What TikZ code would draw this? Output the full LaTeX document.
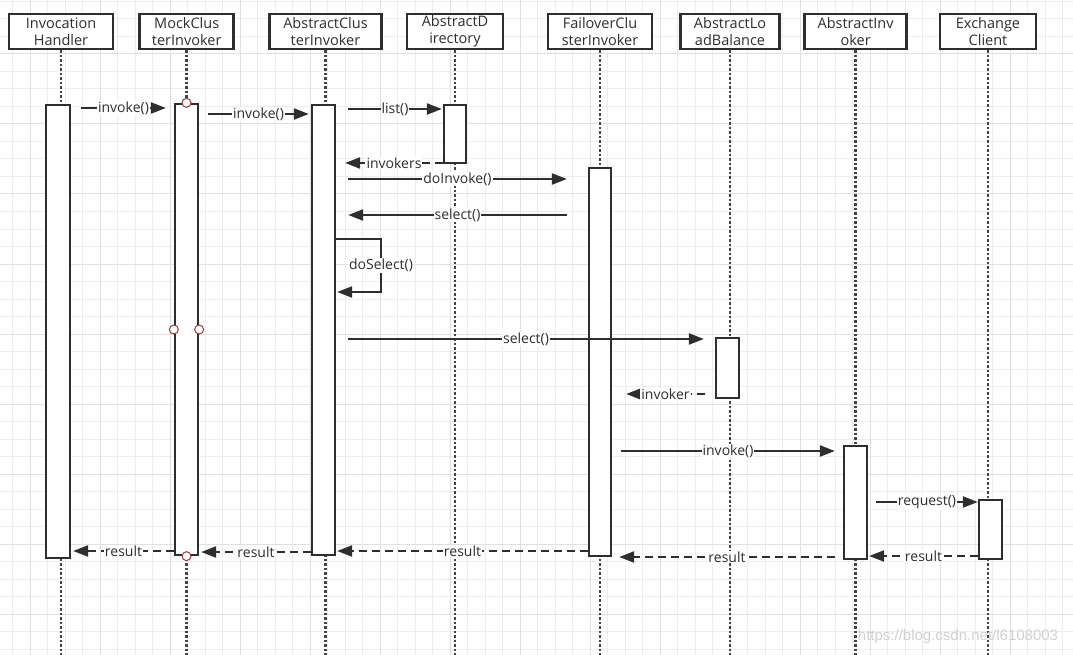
\documentclass[tikz,border=0pt]{standalone}
\usepackage{fontspec}
\setmainfont{Open Sans}
\newfontfamily\wmfont{Liberation Sans}
\usetikzlibrary{arrows.meta,calc}
\definecolor{ink}{HTML}{2E2E2E}
\definecolor{gridminor}{HTML}{EDEDED}
\definecolor{gridmajor}{HTML}{E0E0E0}
\definecolor{portred}{HTML}{A33A3A}
\begin{document}
\begin{tikzpicture}[x=1pt,y=-1pt,
  head/.style={draw=ink, line width=2.9pt, fill=white, minimum width=#1, minimum height=35pt,
    inner sep=0pt, align=center, font=\fontsize{14.5}{17}\selectfont, text=ink},
  act/.style={draw=ink, line width=2.3pt, fill=white, minimum width=22pt, inner sep=0pt},
  life/.style={draw=ink!90, line width=2.6pt, dash pattern=on 2.2pt off 2.3pt},
  msg/.style={draw=ink, line width=2.2pt, -{Triangle[length=15pt,width=11pt]}},
  ret/.style={msg, dash pattern=on 8pt off 5pt},
  lbl/.style={fill=white, inner sep=1pt, text=ink, font=\fontsize{14}{16}\selectfont},
  port/.style={circle, draw=portred, line width=1pt, fill=white, minimum size=9pt, inner sep=0pt}]
\useasboundingbox (0,0) rectangle (1073,655);
\fill[white] (0,0) rectangle (1073,655);
% grid
\foreach \gx in {12.5,30,...,1073} \draw[gridminor, line width=1pt] (\gx,0) -- (\gx,655);
\foreach \gy in {1.5,19,...,655} \draw[gridminor, line width=1pt] (0,\gy) -- (1073,\gy);
\foreach \gx in {30,100,...,1073} \draw[gridmajor, line width=1pt] (\gx,0) -- (\gx,655);
\foreach \gy in {54,124,...,655} \draw[gridmajor, line width=1pt] (0,\gy) -- (1073,\gy);

% headers
\node[head=104] (hIH) at (61,31.5) {Invocation\\Handler};
\node[head=94]  (hMC) at (186.7,31.5) {MockClus\\terInvoker};
\node[head=112] (hAC) at (325.5,31.5) {AbstractClus\\terInvoker};
\node[head=96]  (hAD) at (455,31.5) {AbstractD\\irectory};
\node[head=104] (hFO) at (600,31.5) {FailoverClu\\sterInvoker};
\node[head=99]  (hLB) at (730,31.5) {AbstractLo\\adBalance};
\node[head=102] (hAI) at (855.6,31.5) {AbstractInv\\oker};
\node[head=96]  (hEC) at (988,31.5) {Exchange\\Client};

% lifelines
\foreach \h in {hIH,hMC,hAC,hAD,hFO,hLB,hAI,hEC}
  \draw[life] (\h.south) -- (\h.south |- 0,655);

% activation boxes
\node[act, minimum height=453pt, minimum width=24pt] (aIH) at (58,331.5) {};
\node[act, minimum height=451pt, minimum width=23pt] (aMC) at (186.5,329.5) {};
\node[act, minimum height=450pt, minimum width=23pt] (aAC) at (323.5,330) {};
\node[act, minimum height=58pt]  (aAD) at (455,134) {};
\node[act, minimum height=388pt] (aFO) at (600,362) {};
\node[act, minimum height=60pt, minimum width=23pt]  (aLB) at (727.5,368) {};
\node[act, minimum height=113pt, minimum width=23pt] (aAI) at (855.5,502.5) {};
\node[act, minimum height=59pt, minimum width=23pt]  (aEC) at (990.5,529.5) {};

% ports on MockClusterInvoker
\node[port] (p1) at (aMC.north) {};
\node[port] (p2) at (aMC.south) {};
\node[port] (p3) at (aMC.west |- 0,329.5) {};
\node[port] (p4) at (aMC.east |- 0,329.5) {};

% messages
\draw[msg] ($(aIH.east|-0,108)+(10,0)$) -- node[lbl]{invoke()} ($(aMC.west|-0,108)+(-8,0)$);
\draw[msg] ($(aMC.east|-0,114)+(9,0)$) -- node[lbl]{invoke()} ($(aAC.west|-0,114)+(-2,0)$);
\draw[msg] ($(aAC.east|-0,109)+(12,0)$) -- node[lbl]{list()} ($(aAD.west|-0,109)+(-1,0)$);
\draw[ret] ($(aAD.west|-0,163)$) -- node[lbl]{invokers} ($(aAC.east|-0,163)+(9,0)$);
\draw[msg] ($(aAC.east|-0,179)+(12,0)$) -- node[lbl]{doInvoke()} ($(aFO.west|-0,179)+(-21,0)$);
\draw[msg] ($(aFO.west|-0,215)+(-21,0)$) -- node[lbl]{select()} ($(aAC.east|-0,215)+(12,0)$);
\coordinate (ds1) at (381,239);
\coordinate (ds2) at (381,292);
\draw[msg] (aAC.east |- ds1) -- (ds1) -- node[lbl]{doSelect()} (ds2) -- ($(aAC.east|-ds2)+(1,0)$);
\draw[msg] ($(aAC.east|-0,339)+(12,0)$) -- node[lbl]{select()} ($(aLB.west|-0,339)+(-11,0)$);
\draw[ret] ($(aLB.west|-0,394)+(-10,0)$) -- node[lbl]{invoker} ($(aFO.east|-0,394)+(14,0)$);
\draw[msg] ($(aFO.east|-0,451)+(9,0)$) -- node[lbl]{invoke()} ($(aAI.west|-0,451)+(-8,0)$);
\draw[msg] ($(aAI.east|-0,502)+(8,0)$) -- node[lbl]{request()} ($(aEC.west|-0,502)$);
\draw[ret] ($(aEC.west|-0,556)$) -- node[lbl]{result} ($(aAI.east|-0,556)+(1,0)$);
\draw[ret] ($(aAI.west|-0,557)+(-8,0)$) -- node[lbl]{result} ($(aFO.east|-0,557)+(7,0)$);
\draw[ret] ($(aFO.west|-0,551)$) -- node[lbl]{result} ($(aAC.east|-0,551)+(1,0)$);
\draw[ret] ($(aAC.west|-0,552)$) -- node[lbl]{result} ($(aMC.east|-0,552)+(2,0)$);
\draw[ret] ($(aMC.west|-0,551)$) -- node[lbl]{result} ($(aIH.east|-0,551)+(2,0)$);

% watermark
\node[text=black!18, font=\wmfont\fontsize{15}{17}\selectfont, inner sep=0pt] (wm) at (958,637) {https://blog.csdn.net/l6108003};
\end{tikzpicture}
\end{document}
